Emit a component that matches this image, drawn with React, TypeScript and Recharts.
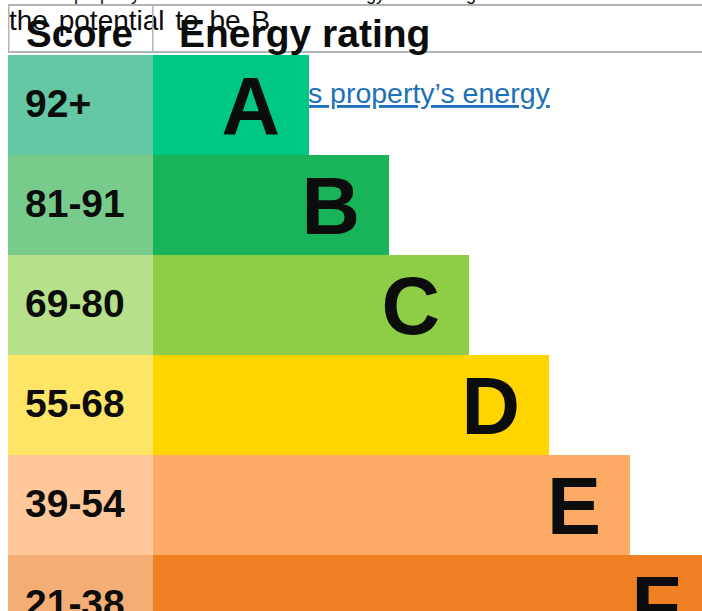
import { BarChart, Bar, XAxis, YAxis, Cell, LabelList } from 'recharts';

const bands = ['A', 'B', 'C', 'D', 'E', 'F'];
const scoreRanges = ['92+', '81-91', '69-80', '55-68', '39-54', '21-38'];
// relative bar lengths
const barLengths = [156, 236, 316, 396, 477, 557];
const scoreColumn = [145, 145, 145, 145, 145, 145];
const bandColors = ['#00c781', '#19b459', '#8dce46', '#ffd500', '#fcaa65', '#ef8023'];
const scoreColors = ['#64c8a5', '#77cc8b', '#b6e08a', '#ffe566', '#ffc79a', '#f4ad75'];

const data = bands.map((band, i) => ({
  band,
  range: scoreRanges[i],
  score: scoreColumn[i],
  rating: barLengths[i],
}));

const FONT = '"Liberation Sans", Arial, sans-serif';
const INK = '#0b0c0c';

const ScoreLabel = (props: any) => {
  const { x, y, height, value } = props;
  return (
    <text x={x + 17} y={y + height / 2 + 12} fontSize={39} fontWeight="bold" fill={INK} fontFamily={FONT}>
      {value}
    </text>
  );
};

const LetterLabel = (props: any) => {
  const { x, y, width, height, value } = props;
  return (
    <text
      x={x + width - 29}
      y={y + height / 2 + 29}
      textAnchor="end"
      fontSize={81}
      fontWeight="bold"
      fill={INK}
      fontFamily={FONT}
    >
      {value}
    </text>
  );
};

export default function App() {
  return (
    <div
      style={{
        position: 'fixed',
        left: 0,
        top: 0,
        width: 702,
        height: 611,
        overflow: 'hidden',
        background: '#fff',
      }}
    >
      <svg width={702} height={611} style={{ position: 'absolute', left: 0, top: 0 }} fontFamily={FONT}>
        {/* paragraph text behind the table */}
        <text y={0} fontSize={18} fill={INK}>
          <tspan x={40}>This</tspan>
          <tspan x={74}>property’s</tspan>
          <tspan x={200}>current</tspan>
          <tspan x={330}>energy</tspan>
          <tspan x={431}>rating</tspan>
          <tspan x={521}>is D. It has</tspan>
        </text>
        <text x={9} y={30} fontSize={28} fill={INK} wordSpacing={3}>
          the potential to be B
        </text>
        <text x={18} y={103} fontSize={28.5} fill="#1d70b8" textDecoration="underline">
          See how to improve this property’s energy
        </text>
        {/* header row */}
        <rect x={8} y={4} width={694} height={2} fill="#b1b4b6" />
        <rect x={8} y={51} width={694} height={2} fill="#b1b4b6" />
        <rect x={8} y={4} width={1.5} height={49} fill="#b1b4b6" />
        <rect x={152} y={4} width={1.5} height={49} fill="#b1b4b6" />
        <text x={26} y={47} fontSize={38.5} fontWeight="bold" fill={INK}>
          Score
        </text>
        <text x={179} y={47} fontSize={39} fontWeight="bold" fill={INK}>
          Energy rating
        </text>
      </svg>
      <div style={{ position: 'absolute', left: 8, top: 55 }}>
        <BarChart
          width={712}
          height={600}
          data={data}
          layout="vertical"
          margin={{ top: 0, right: 0, bottom: 0, left: 0 }}
          barCategoryGap={0}
        >
          <XAxis type="number" domain={[0, 712]} hide />
          <YAxis type="category" dataKey="band" hide />
          <Bar dataKey="score" stackId="epc" isAnimationActive={false}>
            {data.map((d, i) => (
              <Cell key={d.band} fill={scoreColors[i]} />
            ))}
            <LabelList dataKey="range" content={ScoreLabel} />
          </Bar>
          <Bar dataKey="rating" stackId="epc" isAnimationActive={false}>
            {data.map((d, i) => (
              <Cell key={d.band} fill={bandColors[i]} />
            ))}
            <LabelList dataKey="band" content={LetterLabel} />
          </Bar>
        </BarChart>
      </div>
    </div>
  );
}
